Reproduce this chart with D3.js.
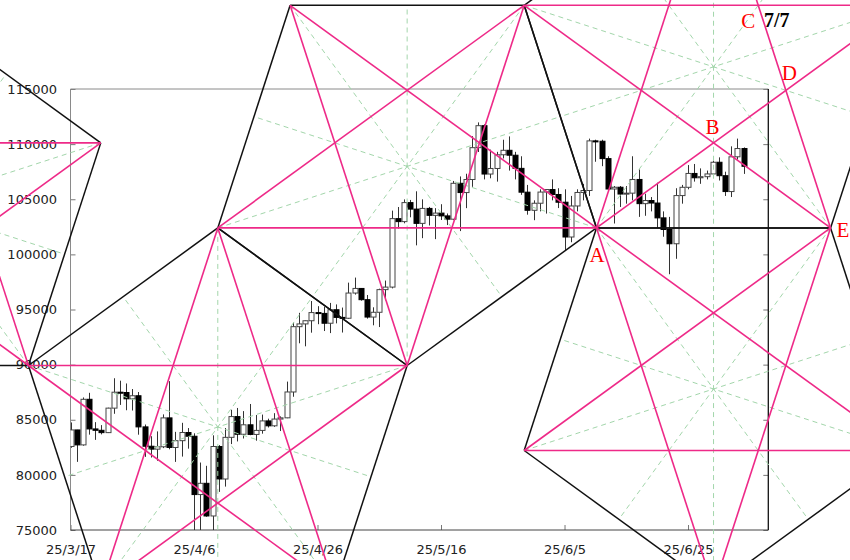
<!DOCTYPE html>
<html>
<head>
<meta charset="utf-8">
<script src="https://cdn.jsdelivr.net/npm/d3@7/dist/d3.min.js"></script>
<style>
  body { margin: 0; background: #fff; }
  svg text { font-family: "DejaVu Sans", sans-serif; }
</style>
</head>
<body>
<div id="chart"></div>
<script>
// daily candles, 2025-03-17 .. 2025-07-04
var dates = [
  '2025-03-17','2025-03-18','2025-03-19','2025-03-20','2025-03-21','2025-03-22','2025-03-23','2025-03-24','2025-03-25','2025-03-26',
  '2025-03-27','2025-03-28','2025-03-29','2025-03-30','2025-03-31','2025-04-01','2025-04-02','2025-04-03','2025-04-04','2025-04-05',
  '2025-04-06','2025-04-07','2025-04-08','2025-04-09','2025-04-10','2025-04-11','2025-04-12','2025-04-13','2025-04-14','2025-04-15',
  '2025-04-16','2025-04-17','2025-04-18','2025-04-19','2025-04-20','2025-04-21','2025-04-22','2025-04-23','2025-04-24','2025-04-25',
  '2025-04-26','2025-04-27','2025-04-28','2025-04-29','2025-04-30','2025-05-01','2025-05-02','2025-05-03','2025-05-04','2025-05-05',
  '2025-05-06','2025-05-07','2025-05-08','2025-05-09','2025-05-10','2025-05-11','2025-05-12','2025-05-13','2025-05-14','2025-05-15',
  '2025-05-16','2025-05-17','2025-05-18','2025-05-19','2025-05-20','2025-05-21','2025-05-22','2025-05-23','2025-05-24','2025-05-25',
  '2025-05-26','2025-05-27','2025-05-28','2025-05-29','2025-05-30','2025-05-31','2025-06-01','2025-06-02','2025-06-03','2025-06-04',
  '2025-06-05','2025-06-06','2025-06-07','2025-06-08','2025-06-09','2025-06-10','2025-06-11','2025-06-12','2025-06-13','2025-06-14',
  '2025-06-15','2025-06-16','2025-06-17','2025-06-18','2025-06-19','2025-06-20','2025-06-21','2025-06-22','2025-06-23','2025-06-24',
  '2025-06-25','2025-06-26','2025-06-27','2025-06-28','2025-06-29','2025-06-30','2025-07-01','2025-07-02','2025-07-03','2025-07-04'
];
var opens = [
  82577,84075,82719,86855,84167,84043,83832,86054,87499,87471,
  86900,87177,84353,82597,82334,82548,85169,82485,83102,83843,
  83504,78214,79235,76272,82573,79626,83404,85287,83684,84542,
  83668,84033,84895,84450,85063,85174,87519,93442,93691,93980,
  94720,94646,93754,94978,94284,94207,96492,96910,95891,94315,
  94748,96802,97032,103242,102971,104696,104106,102812,104169,103539,
  103744,103490,103191,106447,105606,106791,109678,111673,107287,107791,
  109035,109440,108994,107802,105641,103998,104638,105652,105882,105432,
  104731,101575,104390,105615,105793,110295,110262,108686,105930,106090,
  105472,105553,106794,104601,104883,104657,103310,102257,100963,105333,
  106084,107340,106948,107047,107296,108356,107136,105698,108850,109600
];
var highs = [
  84756,84083,87022,87443,84782,84513,86094,88765,88543,88292,
  87786,87516,84567,83505,83943,85487,88500,83903,84721,84246,
  83771,81119,80823,83588,82700,84247,85905,86069,85785,86429,
  85428,85470,85095,85597,85306,88460,93817,94696,94000,95768,
  95301,95255,95598,95461,95177,97437,97895,96943,96318,95199,
  96889,97625,103969,104297,104985,104937,105720,104991,104303,104192,
  104550,103710,106660,107068,107313,110724,111970,111800,109500,109300,
  110400,110700,109300,108900,106300,104900,105900,105900,106800,106000,
  105900,105300,105900,106400,110500,110400,110400,108900,106200,106200,
  106200,108900,107700,105500,105200,106500,103900,103400,106000,106300,
  108100,108200,107800,107600,108500,108800,107500,109800,110500,109700
];
var lows = [
  82456,81180,82644,83648,83176,83674,83794,85541,86346,85862,
  85837,83645,81634,81573,81279,82429,82320,81177,81659,82377,
  74900,74436,76198,74620,78456,78936,82792,83034,83300,83598,
  83100,83736,84298,84353,83976,85143,87084,91935,91660,92898,
  93665,93047,92860,93742,92910,94153,96350,95800,94173,93566,
  93408,95829,96914,102342,102818,103364,100818,101470,102621,101383,
  103118,102659,103106,102112,104193,106128,109285,106800,106900,106600,
  108700,107600,106800,105400,103600,103100,103900,103700,104900,104200,
  100400,101100,103900,104900,105300,108400,108000,105700,102800,104300,
  104600,104900,103400,103500,103900,102400,101600,98200,99600,104600,
  105900,106600,106400,106800,107200,106700,105300,105200,108600,107300
];
var closes = [
  84075,82719,86855,84167,84043,83832,86054,87499,87471,86900,
  87177,84353,82597,82334,82548,85169,82485,83102,83843,83504,
  78214,79235,76272,82573,79626,83404,85287,83684,84542,83668,
  84033,84895,84450,85063,85174,87519,93442,93691,93980,94720,
  94646,93754,94978,94284,94207,96492,96910,95891,94315,94748,
  96802,97032,103242,102971,104696,104106,102812,104169,103539,103744,
  103490,103191,106447,105606,106791,109678,111673,107287,107791,109035,
  109440,108994,107802,105641,103998,104638,105652,105882,105432,104731,
  101575,104390,105615,105793,110295,110262,108686,105930,106090,105472,
  105553,106794,104601,104883,104657,103310,102257,100963,105333,106084,
  107340,106948,107047,107296,108356,107136,105698,108850,109600,107990
];

var yTicks = [75000, 80000, 85000, 90000, 95000, 100000, 105000, 110000, 115000];
var xTicks = ['2025-03-17', '2025-04-06', '2025-04-26', '2025-05-16', '2025-06-05', '2025-06-25'];
var xDomain = ['2025-03-17', '2025-07-08'];
var yDomain = [75000, 115000];

// the pentagon lattice hangs on edge A-E
var anchorA = {date: '2025-06-10T04:20:00Z', price: 102400};
var anchorE = {date: '2025-07-18T02:00:00Z', price: 102400};
var stamp = '7/7';

var W = 850, H = 560;
var plot = {left: 70.5, right: 768.3, top: 89, bottom: 530};

var parse = d3.utcParse('%Y-%m-%d');
var x = d3.scaleUtc().domain(xDomain.map(parse)).range([plot.left, plot.right]);
var y = d3.scaleLinear().domain(yDomain).range([plot.bottom, plot.top]);

var svg = d3.select('#chart').append('svg')
    .attr('width', W)
    .attr('height', H);

svg.append('defs').append('clipPath').attr('id', 'plotclip')
    .append('rect')
    .attr('x', plot.left).attr('y', plot.top)
    .attr('width', plot.right - plot.left)
    .attr('height', plot.bottom - plot.top);

// axes
svg.append('g')
    .attr('class', 'y axis')
    .attr('transform', 'translate(' + plot.left + ',0)')
    .call(d3.axisLeft(y).tickValues(yTicks).tickSize(-5).tickPadding(13.5).tickFormat(d3.format('d')));

svg.append('g')
    .attr('class', 'y2 axis')
    .attr('transform', 'translate(' + plot.right + ',0)')
    .call(d3.axisRight(y).tickValues(yTicks).tickSize(-5).tickFormat(''));

svg.append('g')
    .attr('class', 'x axis')
    .attr('transform', 'translate(0,' + plot.bottom + ')')
    .call(d3.axisBottom(x).tickValues(xTicks.map(parse)).tickSize(-5).tickPadding(15)
        .tickFormat(d3.utcFormat('%y/%-m/%-d')));

svg.selectAll('.axis .domain').remove();
svg.selectAll('.axis line').attr('stroke', '#777');
svg.selectAll('.axis text')
    .style('font-size', '13px')
    .attr('fill', '#222');

// frame
var frame = svg.append('g').attr('class', 'frame');
frame.append('line').attr('x1', plot.left).attr('y1', plot.top).attr('x2', plot.right).attr('y2', plot.top)
    .attr('stroke', '#8a8a8a');
frame.append('line').attr('x1', plot.left).attr('y1', plot.top).attr('x2', plot.left).attr('y2', plot.bottom)
    .attr('stroke', '#8a8a8a');
frame.append('line').attr('x1', plot.left).attr('y1', plot.bottom).attr('x2', plot.right).attr('y2', plot.bottom)
    .attr('stroke', '#444');
frame.append('line').attr('x1', plot.right).attr('y1', plot.top).attr('x2', plot.right).attr('y2', plot.bottom)
    .attr('stroke', '#111').attr('stroke-width', 1.3);

// candles
var candles = dates.map(function(d, i) {
    return {date: parse(d), o: opens[i], h: highs[i], l: lows[i], c: closes[i]};
});
var bodyW = 5;

var cg = svg.append('g').attr('clip-path', 'url(#plotclip)');
cg.selectAll('.wick')
    .data(candles)
    .enter().append('line')
    .attr('class', 'wick')
    .attr('x1', d => Math.round(x(d.date)) + 0.5)
    .attr('x2', d => Math.round(x(d.date)) + 0.5)
    .attr('y1', d => y(d.h))
    .attr('y2', d => y(d.l))
    .attr('stroke', '#333')
    .attr('stroke-width', 1);

cg.selectAll('.body')
    .data(candles)
    .enter().append('rect')
    .attr('class', 'body')
    .attr('x', d => Math.round(x(d.date)) + 0.5 - bodyW / 2)
    .attr('y', d => y(Math.max(d.o, d.c)))
    .attr('width', bodyW)
    .attr('height', d => Math.max(1, Math.abs(y(d.o) - y(d.c))))
    .attr('fill', d => d.c < d.o ? '#000' : '#fff')
    .attr('stroke', d => d.c < d.o ? '#000' : '#444')
    .attr('stroke-width', 1);

// pentagon lattice, built in screen space from edge A-E
var deg = Math.PI / 180;
var pA = [x(new Date(anchorA.date)), y(anchorA.price)];
var pE = [x(new Date(anchorE.date)), y(anchorE.price)];
var R = (pE[0] - pA[0]) / (2 * Math.sin(36 * deg));

function pentagon(cx, cy, rot) {
    var pts = d3.range(5).map(function(k) {
        var a = (rot + 72 * k) * deg;
        return [cx + R * Math.cos(a), cy + R * Math.sin(a)];
    });
    return {cx: cx, cy: cy, rot: rot, pts: pts};
}
function mid(p, q) { return [(p[0] + q[0]) / 2, (p[1] + q[1]) / 2]; }
function reflect(p, i, j) {
    var m = mid(p.pts[i], p.pts[j]);
    return pentagon(2 * m[0] - p.cx, 2 * m[1] - p.cy, p.rot + 180);
}
function cross(p1, p2, p3, p4) {
    var d = (p1[0] - p2[0]) * (p3[1] - p4[1]) - (p1[1] - p2[1]) * (p3[0] - p4[0]);
    var t = ((p1[0] - p3[0]) * (p3[1] - p4[1]) - (p1[1] - p3[1]) * (p3[0] - p4[0])) / d;
    return [p1[0] + t * (p2[0] - p1[0]), p1[1] + t * (p2[1] - p1[1])];
}

// P0 points up, A and E are its bottom corners
var P0 = pentagon((pA[0] + pE[0]) / 2, pA[1] - R * Math.cos(36 * deg), -90);
var P1 = reflect(P0, 2, 3);
var P2 = reflect(P0, 3, 4);
var P3 = reflect(P2, 0, 1);
var f = P3.pts[4];
var P4 = pentagon(f[0] - R * Math.cos(54 * deg), f[1] - R * Math.sin(54 * deg), -90);
var pents = [P0, P1, P2, P3, P4];

var edges = [], diags = [], rays = [];
pents.forEach(function(p) {
    for (var k = 0; k < 5; k++) {
        edges.push([p.pts[k], p.pts[(k + 1) % 5]]);
        diags.push([p.pts[k], p.pts[(k + 2) % 5]]);
        rays.push([p.pts[k], mid(p.pts[(k + 2) % 5], p.pts[(k + 3) % 5])]);
    }
});

var og = svg.append('g').attr('class', 'overlay');
function drawSegs(list, cls, color, width, dash) {
    og.selectAll('.' + cls)
        .data(list)
        .enter().append('line')
        .attr('class', cls)
        .attr('x1', d => d[0][0]).attr('y1', d => d[0][1])
        .attr('x2', d => d[1][0]).attr('y2', d => d[1][1])
        .attr('stroke', color)
        .attr('stroke-width', width)
        .attr('stroke-dasharray', dash);
}
drawSegs(rays, 'ray', '#a3d6ab', 1, '5,4');
drawSegs(edges, 'edge', '#111', 1.5, null);
drawSegs(diags, 'diag', '#ee2a88', 1.6, null);

// labels
var q = P0.pts;
var labelPts = [
    {t: 'A', p: q[3], dx: 0.5, dy: 34, anchor: 'middle'},
    {t: 'B', p: cross(q[4], q[2], q[3], q[1]), dx: -1, dy: -9, anchor: 'middle'},
    {t: 'C', p: cross(q[4], q[1], q[2], q[0]), dx: -10, dy: 22.5, anchor: 'middle'},
    {t: 'D', p: cross(q[3], q[1], q[2], q[0]), dx: 3.5, dy: -10, anchor: 'middle'},
    {t: 'E', p: q[2], dx: 6, dy: 9, anchor: 'start'}
];
svg.selectAll('.plabel')
    .data(labelPts)
    .enter().append('text')
    .attr('class', 'plabel')
    .attr('x', d => d.p[0] + d.dx)
    .attr('y', d => d.p[1] + d.dy)
    .attr('text-anchor', d => d.anchor)
    .style('font-family', '"Liberation Serif", "DejaVu Serif", serif')
    .style('font-size', '21px')
    .attr('fill', '#ff0000')
    .text(d => d.t);

svg.append('text')
    .attr('x', 764)
    .attr('y', 27)
    .style('font-family', '"Liberation Serif", "DejaVu Serif", serif')
    .style('font-size', '20px')
    .style('font-weight', 'bold')
    .attr('fill', '#000')
    .text(stamp);
</script>
</body>
</html>
